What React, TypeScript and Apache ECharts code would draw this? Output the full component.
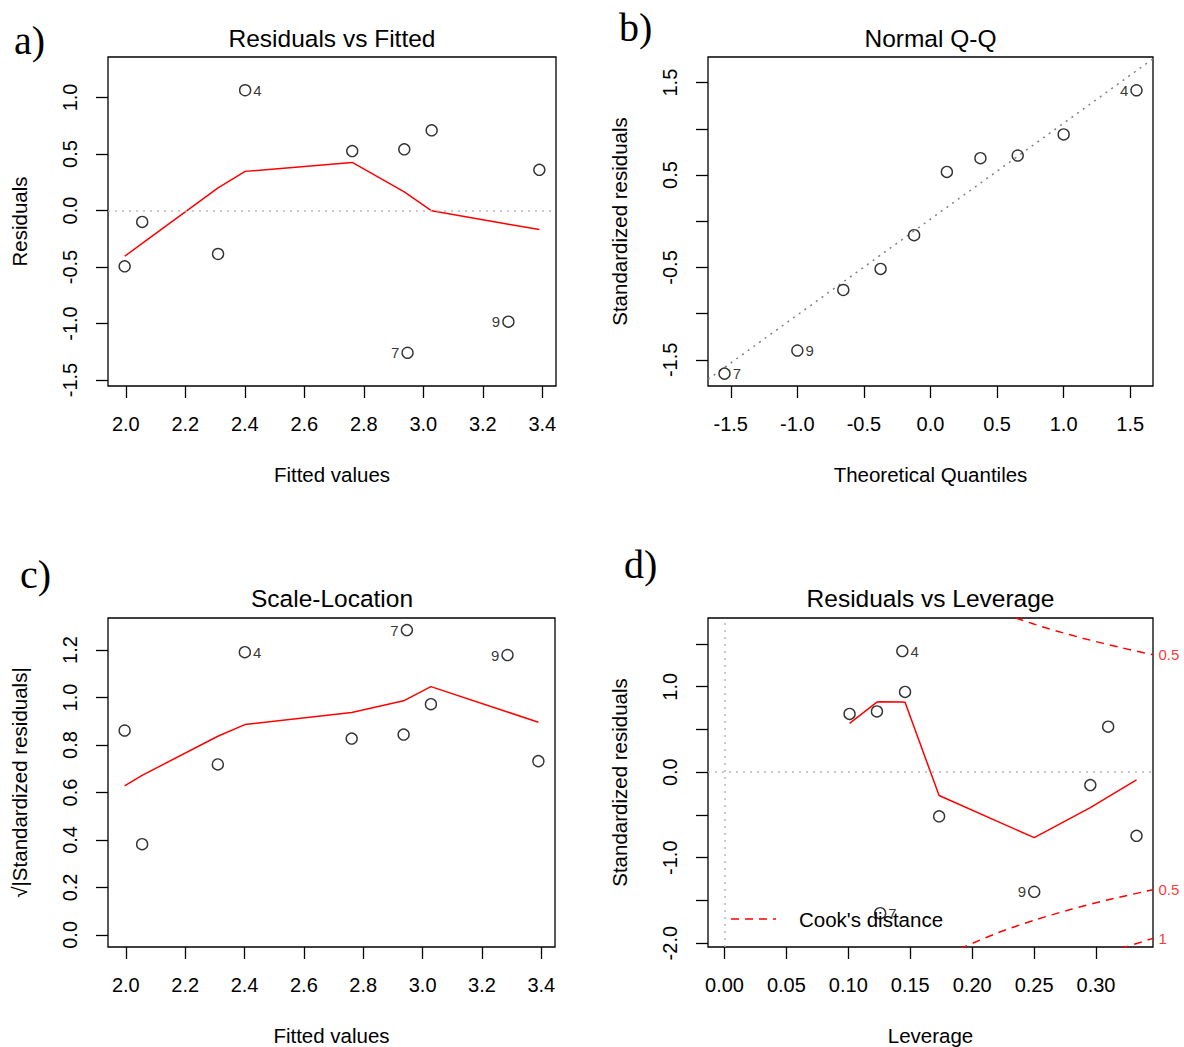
import React, { useEffect, useRef } from 'react';
import * as echarts from 'echarts';

// ---------- data ----------
const fittedValues = [1.996, 2.055, 2.310, 2.401, 2.761, 2.936, 3.028, 2.947, 3.286, 3.390];
const residuals = [-0.494, -0.101, -0.385, 1.064, 0.526, 0.541, 0.709, -1.259, -0.984, 0.360];
const stdResiduals = [-0.744, -0.151, -0.516, 1.417, 0.682, 0.711, 0.939, -1.649, -1.399, 0.533];
const sqrtAbsStdResiduals = [0.861, 0.382, 0.718, 1.191, 0.827, 0.844, 0.972, 1.284, 1.179, 0.732];
const leverage = [0.3327, 0.2954, 0.1733, 0.1436, 0.1010, 0.1231, 0.1458, 0.1257, 0.2501, 0.3098];
const obsLabels = ['', '', '', '4', '', '', '', '7', '9', ''];

const theoreticalQuantiles = [-1.547, -1.0, -0.655, -0.375, -0.123, 0.123, 0.375, 0.655, 1.0, 1.547];
const qqIntercept = 0.023;
const qqSlope = 1.038;

const smoothFittedX = [1.996, 2.055, 2.310, 2.401, 2.761, 2.936, 2.947, 3.028, 3.286, 3.390];
const smoothResidualsY = [-0.405, -0.291, 0.200, 0.346, 0.425, 0.165, 0.145, -0.003, -0.121, -0.169];
const smoothScaleY = [0.628, 0.672, 0.837, 0.886, 0.937, 0.986, 0.993, 1.046, 0.939, 0.896];
const smoothLeverageX = [0.1010, 0.1231, 0.1257, 0.1436, 0.1458, 0.1733, 0.2501, 0.2954, 0.3098, 0.3327];
const smoothLeverageY = [0.571, 0.820, 0.824, 0.822, 0.817, -0.273, -0.766, -0.414, -0.289, -0.090];

const cookUpper05H = [0.235, 0.26, 0.29, 0.32, 0.346];
const cookUpper05R = [1.804, 1.687, 1.565, 1.458, 1.375];
const cookLower05H = [0.19, 0.22, 0.25, 0.28, 0.31, 0.346];
const cookLower05R = [-2.065, -1.883, -1.732, -1.604, -1.492, -1.375];
const cookLower1H = [0.32, 0.346];
const cookLower1R = [-2.062, -1.944];
const cookLevelLabels = ['0.5', '0.5', '1'];

const ticksFitted = [2.0, 2.2, 2.4, 2.6, 2.8, 3.0, 3.2, 3.4];
const ticksResid = [-1.5, -1.0, -0.5, 0.0, 0.5, 1.0];
const ticksQQx = [-1.5, -1.0, -0.5, 0.0, 0.5, 1.0, 1.5];
const ticksQQy = [-1.5, -1.0, -0.5, 0.0, 0.5, 1.0, 1.5];
const labelsQQy = [-1.5, -0.5, 0.5, 1.5];
const ticksScale = [0.0, 0.2, 0.4, 0.6, 0.8, 1.0, 1.2];
const ticksLev = [0.0, 0.05, 0.1, 0.15, 0.2, 0.25, 0.3];
const ticksLevY = [-2.0, -1.5, -1.0, -0.5, 0.0, 0.5, 1.0, 1.5];
const labelsLevY = [-2.0, -1.0, 0.0, 1.0];

// ---------- styles ----------
const SANS = '"Liberation Sans", Arial, Helvetica, sans-serif';
const SERIF = '"Liberation Serif", "Times New Roman", serif';
const RED = '#ff0000';

function valueAxis(gridIndex: number, min: number, max: number, ticks: number[], labels: number[], decimals: number, name: string, isY: boolean) {
  return {
    type: 'value',
    gridIndex,
    min,
    max,
    name,
    nameLocation: 'middle',
    nameGap: 78,
    nameMoveOverlap: false,
    nameTextStyle: { fontFamily: SANS, fontSize: 20.5, color: '#000' },
    axisLine: { show: false, onZero: false },
    splitLine: { show: false },
    axisTick: {
      show: true,
      inside: false,
      length: 12,
      customValues: ticks,
      lineStyle: { color: '#000', width: 1.3 },
    },
    axisLabel: {
      show: true,
      customValues: labels,
      margin: 28,
      rotate: isY ? 90 : 0,
      hideOverlap: false,
      formatter: (v: number) => v.toFixed(decimals),
      fontFamily: SANS,
      fontSize: 20,
      color: '#000',
    },
  };
}

function pointSeries(idx: number, xs: number[], ys: number[], ids: string[], sides: Record<string, string>) {
  return {
    type: 'scatter',
    xAxisIndex: idx,
    yAxisIndex: idx,
    symbol: 'circle',
    symbolSize: 11,
    z: 5,
    itemStyle: { color: 'rgba(255,255,255,0)', borderColor: '#000', borderWidth: 1.4 },
    data: xs.map((x, i) => {
      const id = ids[i];
      return id
        ? {
            value: [x, ys[i]],
            label: {
              show: true,
              formatter: id,
              position: sides[id] || 'right',
              distance: 2,
              fontFamily: SANS,
              fontSize: 15,
              color: '#000',
            },
          }
        : { value: [x, ys[i]] };
    }),
  };
}

function lineSeries(idx: number, xs: number[], ys: number[], color: string, dash: any, smooth: any = false) {
  return {
    type: 'line',
    xAxisIndex: idx,
    yAxisIndex: idx,
    showSymbol: false,
    symbol: 'none',
    smooth,
    clip: true,
    z: 3,
    lineStyle: { color, width: 1.5, type: dash },
    data: xs.map((x, i) => [x, ys[i]]),
  };
}

function zeroLine(idx: number, data: any[]) {
  return {
    type: 'line',
    xAxisIndex: idx,
    yAxisIndex: idx,
    data: [],
    markLine: {
      silent: true,
      symbol: 'none',
      label: { show: false },
      lineStyle: { color: '#b8b8b8', width: 1.5, type: [2, 5] },
      data,
    },
  };
}

function buildOption() {
  const grids = [
    { left: 108, top: 57, width: 448, height: 329 },
    { left: 708, top: 57, width: 445, height: 329 },
    { left: 108, top: 618, width: 447, height: 329 },
    { left: 708, top: 618, width: 445, height: 329 },
  ].map((g) => ({ ...g, show: true, borderColor: '#000', borderWidth: 1.3, backgroundColor: 'transparent' }));

  const xRangeQQ = [-1.671, 1.671];
  const xAxes = [
    valueAxis(0, 1.940, 3.446, ticksFitted, ticksFitted, 1, 'Fitted values', false),
    valueAxis(1, xRangeQQ[0], xRangeQQ[1], ticksQQx, ticksQQx, 1, 'Theoretical Quantiles', false),
    valueAxis(2, 1.940, 3.446, ticksFitted, ticksFitted, 1, 'Fitted values', false),
    valueAxis(3, -0.0133, 0.346, ticksLev, ticksLev, 2, 'Leverage', false),
  ];
  const yAxes = [
    valueAxis(0, -1.553, 1.358, ticksResid, ticksResid, 1, 'Residuals', true),
    valueAxis(1, -1.783, 1.777, ticksQQy, labelsQQy, 1, 'Standardized residuals', true),
    valueAxis(2, -0.051, 1.335, ticksScale, ticksScale, 1, '√|Standardized residuals|', true),
    valueAxis(3, -2.045, 1.804, ticksLevY, labelsLevY, 1, 'Standardized residuals', true),
  ];

  // Q-Q: sort standardized residuals
  const order = stdResiduals.map((v, i) => i).sort((a, b) => stdResiduals[a] - stdResiduals[b]);
  const qqY = order.map((i) => stdResiduals[i]);
  const qqIds = order.map((i) => obsLabels[i]);
  const qqLineX = xRangeQQ;
  const qqLineY = qqLineX.map((x) => qqIntercept + qqSlope * x);

  const series: any[] = [
    // a) Residuals vs Fitted
    zeroLine(0, [{ yAxis: 0 }]),
    lineSeries(0, smoothFittedX, smoothResidualsY, RED, 'solid'),
    pointSeries(0, fittedValues, residuals, obsLabels, { '4': 'right', '7': 'left', '9': 'left' }),
    // b) Normal Q-Q
    lineSeries(1, qqLineX, qqLineY, '#808080', [2, 5]),
    pointSeries(1, theoreticalQuantiles, qqY, qqIds, { '4': 'left', '7': 'right', '9': 'right' }),
    // c) Scale-Location
    lineSeries(2, smoothFittedX, smoothScaleY, RED, 'solid'),
    pointSeries(2, fittedValues, sqrtAbsStdResiduals, obsLabels, { '4': 'right', '7': 'left', '9': 'left' }),
    // d) Residuals vs Leverage
    zeroLine(3, [{ yAxis: 0 }, { xAxis: 0 }]),
    lineSeries(3, smoothLeverageX, smoothLeverageY, RED, 'solid'),
    lineSeries(3, cookUpper05H, cookUpper05R, RED, [8, 6], 0.3),
    lineSeries(3, cookLower05H, cookLower05R, RED, [8, 6], 0.3),
    lineSeries(3, cookLower1H, cookLower1R, RED, [8, 6], 0.3),
    {
      type: 'scatter',
      xAxisIndex: 3,
      yAxisIndex: 3,
      clip: false,
      symbol: 'circle',
      symbolSize: 1,
      itemStyle: { color: 'rgba(0,0,0,0)' },
      label: {
        show: true,
        position: 'right',
        distance: 5,
        fontFamily: SANS,
        fontSize: 15,
        color: RED,
        formatter: (p: any) => p.value[2],
      },
      data: [
        [cookUpper05H[cookUpper05H.length - 1], cookUpper05R[cookUpper05R.length - 1], cookLevelLabels[0]],
        [cookLower05H[cookLower05H.length - 1], cookLower05R[cookLower05R.length - 1], cookLevelLabels[1]],
        [cookLower1H[cookLower1H.length - 1], cookLower1R[cookLower1R.length - 1], cookLevelLabels[2]],
      ],
    },
    pointSeries(3, leverage, stdResiduals, obsLabels, { '4': 'right', '7': 'right', '9': 'left' }),
  ];

  const titleStyle = { fontFamily: SANS, fontSize: 24.5, fill: '#000', textAlign: 'center', textVerticalAlign: 'middle' };
  const letterStyle = { fontFamily: SERIF, fontSize: 40, fill: '#000', textAlign: 'left', textVerticalAlign: 'middle' };

  const graphic: any[] = [
    { type: 'text', x: 332, y: 38, style: { ...titleStyle, text: 'Residuals vs Fitted' } },
    { type: 'text', x: 930.5, y: 38, style: { ...titleStyle, text: 'Normal Q-Q' } },
    { type: 'text', x: 332, y: 598.5, style: { ...titleStyle, text: 'Scale-Location' } },
    { type: 'text', x: 930.5, y: 598.5, style: { ...titleStyle, text: 'Residuals vs Leverage' } },
    { type: 'text', x: 14, y: 40, style: { ...letterStyle, text: 'a)' } },
    { type: 'text', x: 619, y: 27, style: { ...letterStyle, text: 'b)' } },
    { type: 'text', x: 20, y: 574, style: { ...letterStyle, text: 'c)' } },
    { type: 'text', x: 624, y: 564, style: { ...letterStyle, text: 'd)' } },
    {
      type: 'line',
      z: 10,
      shape: { x1: 731, y1: 919, x2: 776, y2: 919 },
      style: { stroke: RED, lineWidth: 1.5, lineDash: [8, 6] },
    },
    {
      type: 'text',
      z: 10,
      x: 799,
      y: 919,
      style: { text: "Cook's distance", fontFamily: SANS, fontSize: 20.5, fill: '#000', textAlign: 'left', textVerticalAlign: 'middle' },
    },
  ];

  return {
    animation: false,
    backgroundColor: '#ffffff',
    grid: grids,
    xAxis: xAxes,
    yAxis: yAxes,
    series,
    graphic,
  };
}

export default function App() {
  const ref = useRef<HTMLDivElement>(null);
  useEffect(() => {
    if (!ref.current) return;
    const chart = echarts.init(ref.current, undefined, { renderer: 'svg' });
    chart.setOption(buildOption() as any);
    return () => chart.dispose();
  }, []);
  return (
    <div
      ref={ref}
      style={{ position: 'absolute', left: 0, top: 0, width: 1184, height: 1047, background: '#fff' }}
    />
  );
}
